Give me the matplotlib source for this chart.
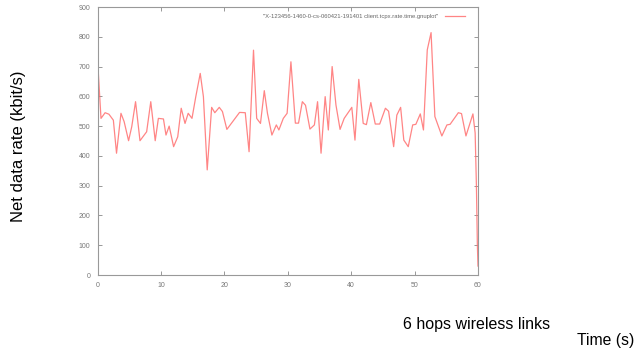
import matplotlib
matplotlib.use("Agg")
import matplotlib.pyplot as plt

time_s = [0.0, 0.1, 0.55, 1.2, 1.8, 2.5, 3.0, 3.7, 4.2, 4.9, 5.4, 6.0, 6.7, 7.75, 8.4, 9.1,
          9.6, 10.4, 10.8, 11.3, 12.0, 12.65, 13.2, 13.8, 14.3, 14.9, 15.5, 16.2, 16.7, 17.3,
          18.0, 18.5, 19.2, 19.7, 20.4, 22.4, 23.3, 23.9, 24.6, 25.1, 25.7, 26.3, 26.8, 27.5,
          28.2, 28.6, 29.3, 29.9, 30.5, 31.2, 31.7, 32.3, 32.8, 33.5, 34.2, 34.7, 35.25, 35.9,
          36.4, 37.0, 37.6, 38.25, 38.9, 40.1, 40.6, 41.2, 41.9, 42.4, 43.1, 43.8, 44.5, 45.4,
          45.9, 46.7, 47.2, 47.8, 48.3, 49.0, 49.7, 50.2, 50.9, 51.4, 52.0, 52.6, 53.2, 54.3,
          55.1, 55.6, 56.9, 57.4, 58.1, 59.2, 59.55, 59.75, 59.9, 60.0]
rate_kbps = [728, 690, 526, 545, 540, 520, 409, 543, 515, 451, 498, 582, 451, 481, 582, 451,
             526, 524, 470, 500, 431, 464, 560, 509, 543, 526, 599, 677, 599, 353,
             563, 545, 563, 549, 489, 546, 545, 414, 755, 526, 509, 619, 543, 470,
             504, 487, 526, 543, 716, 510, 510, 582, 570, 490, 504, 582, 409, 599,
             487, 700, 571, 489, 526, 563, 453, 657, 509, 505, 579, 507, 507, 560,
             550, 431, 537, 563, 453, 431, 504, 506, 541, 487, 756, 814, 532, 467,
             504, 506, 545, 542, 467, 541, 477, 300, 100, 30]

legend_label = '"X-123456-1460-0-cs-060421-191401 client.tcpx.rate.time.gnuplot"'
x_ticks = [0, 10, 20, 30, 40, 50, 60]
y_ticks = [0, 100, 200, 300, 400, 500, 600, 700, 800, 900]

plt.rcParams['font.family'] = ['Liberation Sans', 'DejaVu Sans']

fig = plt.figure(figsize=(6.35, 3.49), dpi=100)
ax = fig.add_axes([97.5 / 635, 1 - 275 / 349, (478 - 97.5) / 635, (275 - 7) / 349])

ax.plot(time_s, rate_kbps, color='#ff7070', lw=0.9, alpha=0.85, label=legend_label)
ax.set_xlim(0, 60)
ax.set_ylim(0, 900)
ax.set_xticks(x_ticks)
ax.set_yticks(y_ticks)
ax.tick_params(direction='in', length=3, width=0.6, color='#888888', labelsize=5,
               labelcolor='#777777', top=True, right=True, pad=5)
for s in ax.spines.values():
    s.set_color('#999999')
    s.set_linewidth(0.8)

leg = ax.legend(loc='upper right', bbox_to_anchor=(1 - 8 / 380, 1 - 1.5 / 268),
                frameon=False, fontsize=4.2, handlelength=3.4,
                borderaxespad=0.5, markerfirst=False, handletextpad=1.2)
for t in leg.get_texts():
    t.set_color('#666666')

fig.text(19 / 635, 1 - 146 / 349, 'Net data rate (kbit/s)', rotation=90, ha='center',
         va='center', fontsize=12, color='black')
fig.text(403 / 635, 1 - 325 / 349, '6 hops wireless links', ha='left', va='center',
         fontsize=11.5, color='black')
fig.text(577 / 635, 1 - 340 / 349, 'Time (s)', ha='left', va='center',
         fontsize=11.3, color='black')

fig.savefig('out.png', dpi=100)
